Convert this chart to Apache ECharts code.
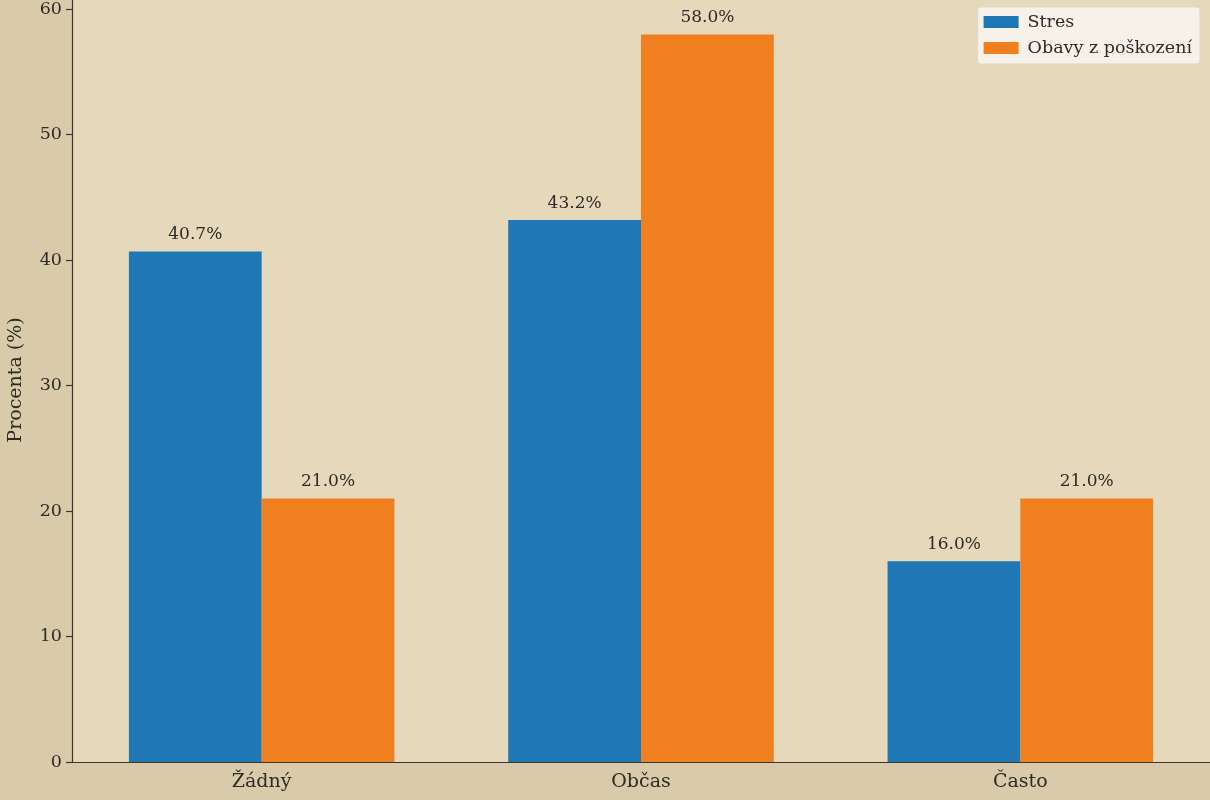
<!DOCTYPE html>
<html>
<head>
<meta charset="utf-8">
<script src="https://cdn.jsdelivr.net/npm/echarts@6/dist/echarts.min.js"></script>
<style>
	html, body { margin: 0; padding: 0; background: #d9cbaa; }
	#chart { width: 1210px; height: 800px; }
</style>
</head>
<body>
<div id="chart"></div>
<script>
var categories = ['Žádný', 'Občas', 'Často'];
var stresValues = [40.7, 43.2, 16.0];
var obavyValues = [21.0, 58.0, 21.0];
var yTicks = [0, 10, 20, 30, 40, 50, 60];
var seriesNames = ['Stres', 'Obavy z poškození'];

var font = 'DejaVu Serif';
var ink = '#2e2a26';

var chart = echarts.init(document.getElementById('chart'));

function barLabel() {
	return {
		show: true,
		position: 'top',
		distance: 8,
		fontFamily: font,
		fontSize: 17,
		color: ink,
		formatter: function(p) { return p.value.toFixed(1) + '%'; }
	};
}

var option = {
	backgroundColor: '#d9cbaa',
	animation: false,
	grid: {
		left: 72,
		right: 0,
		top: -2,
		bottom: 38,
		outerBoundsMode: 'none',
		containLabel: false,
		show: true,
		backgroundColor: '#e6d8bb',
		borderWidth: 0
	},
	legend: {
		data: seriesNames,
		orient: 'vertical',
		right: 10,
		top: 7,
		itemWidth: 35,
		itemHeight: 12,
		itemGap: 8,
		padding: [6, 8, 7, 6],
		backgroundColor: '#f6f2ea',
		borderColor: '#ddd6c8',
		borderWidth: 1,
		borderRadius: 3,
		icon: 'rect',
		textStyle: { fontFamily: font, fontSize: 17.5, color: ink, padding: [0, 0, 0, 4] }
	},
	xAxis: {
		type: 'category',
		data: categories,
		axisLine: { lineStyle: { color: '#3d352e', width: 1.2 } },
		axisTick: { alignWithLabel: true, length: 6, lineStyle: { color: '#3d352e', width: 1.2 } },
		axisLabel: { fontFamily: font, fontSize: 19, color: ink, margin: 11 }
	},
	yAxis: {
		type: 'value',
		min: 0,
		max: 60.9,
		name: 'Procenta (%)',
		nameLocation: 'middle',
		nameGap: 46,
		nameTextStyle: { fontFamily: font, fontSize: 19, color: ink },
		splitLine: { show: false },
		axisLine: { show: true, lineStyle: { color: '#3d352e', width: 1.2 } },
		axisTick: { show: true, length: 6, customValues: yTicks, lineStyle: { color: '#3d352e', width: 1.2 } },
		axisLabel: { fontFamily: font, fontSize: 17.5, color: ink, margin: 10, customValues: yTicks }
	},
	series: [{
		name: seriesNames[0],
		type: 'bar',
		data: stresValues,
		barWidth: '35%',
		barGap: '0%',
		itemStyle: { color: '#1f77b4' },
		label: barLabel()
	}, {
		name: seriesNames[1],
		type: 'bar',
		data: obavyValues,
		barWidth: '35%',
		barGap: '0%',
		itemStyle: { color: '#ef7f1f' },
		label: barLabel()
	}]
};
chart.setOption(option);
</script>
</body>
</html>
